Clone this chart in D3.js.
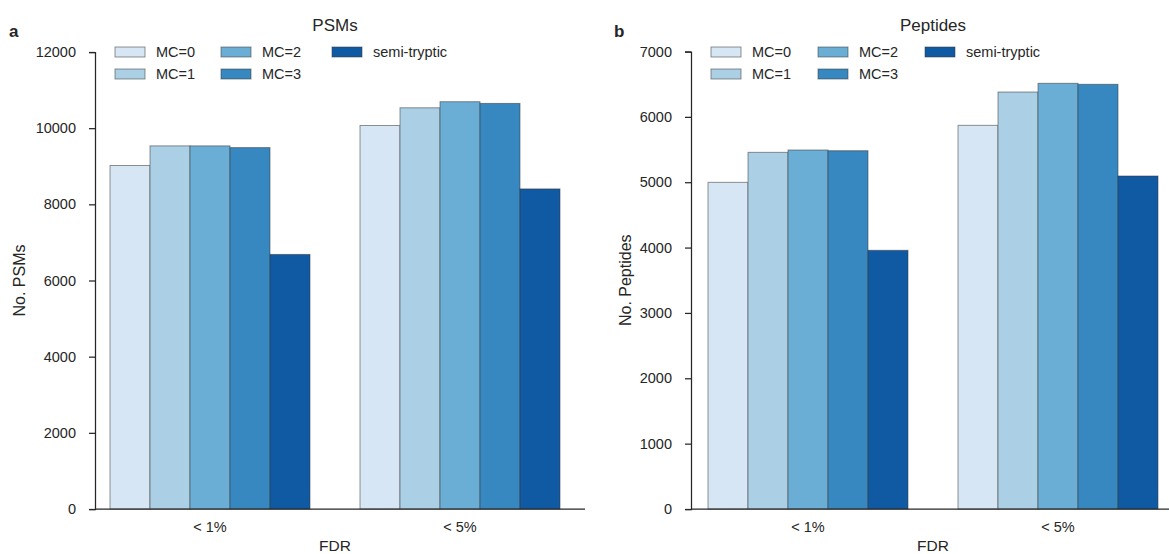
<!DOCTYPE html>
<html><head><meta charset="utf-8">
<script src="https://cdn.jsdelivr.net/npm/d3@7"></script>
<style>
body{margin:0;background:#fff;}
text{font-family:"Liberation Sans",Arial,Helvetica,sans-serif;fill:#262626;}
</style></head>
<body>
<svg id="chart" width="1169" height="554"></svg>
<script>
const categories = ["< 1%", "< 5%"];
const series = ["MC=0", "MC=1", "MC=2", "MC=3", "semi-tryptic"];
const colors = ["#d6e6f4", "#abd0e6", "#6aaed6", "#3787c0", "#1059a3"];
const psms = [
  [9020, 10070],   // MC=0
  [9535, 10535],   // MC=1
  [9535, 10695],   // MC=2
  [9490, 10650],   // MC=3
  [6685, 8405]     // semi-tryptic
];
const peptides = [
  [4998, 5870],
  [5457, 6380],
  [5493, 6513],
  [5482, 6498],
  [3958, 5095]
];
const psmTicks = [0, 2000, 4000, 6000, 8000, 10000, 12000];
const pepTicks = [0, 1000, 2000, 3000, 4000, 5000, 6000, 7000];

const svg = d3.select("#chart");

function panel(opts) {
  const g = svg.append("g");
  const x = d3.scaleLinear().domain([-0.5, 1.5]).range([opts.left, opts.left + 500]);
  const hue = d3.scaleBand().domain(series).range([-0.4, 0.4]);
  const y = d3.scaleLinear().domain([0, opts.ymax]).range([509, opts.ytop]);

  // bars
  series.forEach((s, si) => {
    categories.forEach((c, ci) => {
      const v = opts.data[si][ci];
      const x0 = x(ci + hue(s)), x1 = x(ci + hue(s) + hue.bandwidth());
      g.append("rect")
        .attr("x", x0).attr("width", x1 - x0)
        .attr("y", y(v)).attr("height", y(0) - y(v))
        .attr("fill", colors[si])
        .attr("stroke", "#3a3a3a").attr("stroke-opacity", 0.55).attr("stroke-width", 1);
    });
  });

  const spineX = opts.left + opts.spineOff;
  // y axis
  const yAxis = d3.axisLeft(y).tickValues(opts.ticks).tickSize(6).tickPadding(13).tickFormat(d3.format("d"));
  const ya = g.append("g").attr("transform", `translate(${spineX},0)`).call(yAxis);
  ya.select(".domain").attr("stroke", "#262626").attr("stroke-width", 1.25);
  ya.selectAll(".tick line").attr("stroke", "#262626").attr("stroke-width", 1.25);
  ya.selectAll(".tick text").style("font-size", "14.5px").attr("fill", "#262626")
    .style("font-family", '"Liberation Sans",Arial,sans-serif');

  // x axis baseline
  g.append("line").attr("x1", spineX).attr("x2", x(1.5)).attr("y1", y(0)).attr("y2", y(0))
    .attr("stroke", "#262626").attr("stroke-width", 1.25);
  categories.forEach((c, ci) => {
    g.append("text").attr("x", x(ci)).attr("y", 532).attr("text-anchor", "middle")
      .style("font-size", "14.5px").text(c);
  });
  g.append("text").attr("x", x(0.5)).attr("y", 551).attr("text-anchor", "middle")
    .style("font-size", "15.5px").text("FDR");

  // title
  g.append("text").attr("x", x(0.5)).attr("y", 31).attr("text-anchor", "middle")
    .style("font-size", "17px").text(opts.title);
  // panel letter
  g.append("text").attr("x", opts.letterX).attr("y", 37).style("font-size", "17px")
    .style("font-weight", "bold").attr("fill", "#000").text(opts.letter);
  // y label
  g.append("text").attr("transform", `translate(${opts.ylabX},${(y(0) + y(opts.ymax)) / 2}) rotate(-90)`)
    .attr("text-anchor", "middle").style("font-size", "16px").text(opts.ylab);

  // legend
  const cols = opts.legendCols;
  series.forEach((s, si) => {
    const col = si < 2 ? 0 : (si < 4 ? 1 : 2);
    const row = (si === 1 || si === 3) ? 1 : 0;
    const lx = opts.left + cols[col];
    const ly = 47 + row * 22;
    g.append("rect").attr("x", lx).attr("y", ly).attr("width", 30).attr("height", 10)
      .attr("fill", colors[si]).attr("stroke", "#3a3a3a").attr("stroke-opacity", 0.55);
    g.append("text").attr("x", lx + 41).attr("y", ly + 10).style("font-size", "14.5px").text(s);
  });
}

panel({left: 85, spineOff: 10, ymax: 12000, ytop: 52, ticks: psmTicks, data: psms,
  title: "PSMs", letter: "a", letterX: 9, ylab: "No. PSMs", ylabX: 25, legendCols: [30, 136, 247]});
panel({left: 683, spineOff: 8, ymax: 7000, ytop: 51.5, ticks: pepTicks, data: peptides,
  title: "Peptides", letter: "b", letterX: 614, ylab: "No. Peptides", ylabX: 631, legendCols: [28, 135, 242]});
</script>
</body></html>
